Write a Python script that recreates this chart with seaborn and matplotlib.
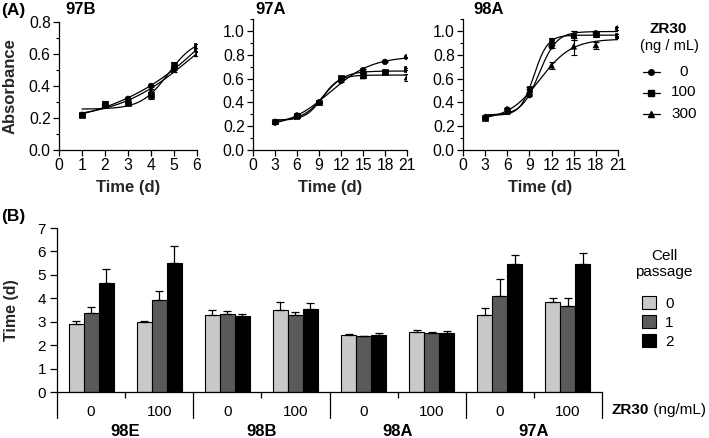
import numpy as np
import pandas as pd
import matplotlib
matplotlib.use('Agg')
import matplotlib.pyplot as plt
import matplotlib.transforms as mtransforms
from matplotlib.ticker import MultipleLocator, FormatStrFormatter
from matplotlib.patches import Patch
import seaborn as sns

# ---- panel A data: absorbance growth curves ----
doses = ['0', '100', '300']
dose_markers = {'0': 'o', '100': 's', '300': '^'}

days_97b = [1, 2, 3, 4, 5, 6]
abs_97b_0 = [0.22, 0.28, 0.32, 0.40, 0.51, 0.63]
abs_97b_100 = [0.22, 0.29, 0.29, 0.34, 0.53, 0.65]
abs_97b_300 = [0.22, 0.28, 0.31, 0.37, 0.50, 0.60]
err_97b_0 = [0.005, 0.005, 0.005, 0.005, 0.01, 0.01]
err_97b_100 = [0.01, 0.015, 0.01, 0.02, 0.02, 0.015]
err_97b_300 = [0.005, 0.01, 0.01, 0.01, 0.01, 0.015]

days_long = [3, 6, 9, 12, 15, 18, 21]
abs_97a_0 = [0.23, 0.29, 0.40, 0.58, 0.67, 0.74, 0.78]
abs_97a_100 = [0.24, 0.29, 0.40, 0.61, 0.63, 0.66, 0.68]
abs_97a_300 = [0.24, 0.28, 0.40, 0.60, 0.62, 0.65, 0.61]
err_97a_0 = [0.005, 0.005, 0.005, 0.01, 0.01, 0.005, 0.005]
err_97a_100 = [0.005, 0.01, 0.005, 0.01, 0.02, 0.01, 0.01]
err_97a_300 = [0.005, 0.01, 0.005, 0.01, 0.01, 0.01, 0.03]

abs_98a_0 = [0.27, 0.34, 0.46, 0.87, 0.96, 0.98, 1.02]
abs_98a_100 = [0.27, 0.33, 0.51, 0.92, 0.96, 0.97, 0.96]
abs_98a_300 = [0.28, 0.32, 0.49, 0.71, 0.87, 0.88, 0.95]
err_98a_0 = [0.005, 0.01, 0.01, 0.01, 0.04, 0.01, 0.01]
err_98a_100 = [0.01, 0.02, 0.02, 0.02, 0.04, 0.02, 0.01]
err_98a_300 = [0.005, 0.01, 0.02, 0.03, 0.07, 0.03, 0.01]

panels = [
    ('97B', days_97b, [abs_97b_0, abs_97b_100, abs_97b_300], [err_97b_0, err_97b_100, err_97b_300]),
    ('97A', days_long, [abs_97a_0, abs_97a_100, abs_97a_300], [err_97a_0, err_97a_100, err_97a_300]),
    ('98A', days_long, [abs_98a_0, abs_98a_100, abs_98a_300], [err_98a_0, err_98a_100, err_98a_300]),
]

# ---- panel B data: doubling time ----
cell_lines = ['98E', '98B', '98A', '97A']
zr_doses = ['0', '100']
passages = ['0', '1', '2']
time_p0 = [2.90, 2.97, 3.29, 3.49, 2.45, 2.55, 3.29, 3.83]
time_p1 = [3.39, 3.93, 3.32, 3.29, 2.39, 2.53, 4.09, 3.67]
time_p2 = [4.64, 5.49, 3.23, 3.53, 2.42, 2.52, 5.45, 5.45]
err_p0 = [0.14, 0.08, 0.21, 0.36, 0.03, 0.10, 0.31, 0.20]
err_p1 = [0.22, 0.39, 0.14, 0.11, 0.02, 0.05, 0.75, 0.36]
err_p2 = [0.61, 0.76, 0.11, 0.27, 0.11, 0.08, 0.40, 0.50]
bar_colors = ['#c9c9c9', '#5a5a5a', '#000000']


def logistic_fit(x, y):
    # least squares 4-parameter logistic, grid over slope / midpoint
    x = np.asarray(x, float)
    y = np.asarray(y, float)
    ks = np.linspace(0.05, 3.0, 150)[:, None, None]
    x0s = np.linspace(x.min(), x.max() + 12, 300)[None, :, None]
    s = 1.0 / (1.0 + np.exp(-ks * (x - x0s)))
    sm = s.mean(-1, keepdims=True)
    ym = y.mean()
    c1 = ((s - sm) * (y - ym)).sum(-1, keepdims=True) / (((s - sm) ** 2).sum(-1, keepdims=True) + 1e-12)
    c0 = ym - c1 * sm
    sse = ((y - c0 - c1 * s) ** 2).sum(-1)
    i, j = np.unravel_index(np.nanargmin(sse), sse.shape)
    k, x0 = ks[i, 0, 0], x0s[0, j, 0]
    xf = np.linspace(x.min(), x.max(), 200)
    return xf, c0[i, j, 0] + c1[i, j, 0] / (1.0 + np.exp(-k * (xf - x0)))


sns.set_theme(style='ticks')
plt.rcParams['font.family'] = ['Liberation Sans', 'DejaVu Sans']
plt.rcParams['axes.linewidth'] = 0.9
plt.rcParams['xtick.major.width'] = 0.9
plt.rcParams['ytick.major.width'] = 0.9
plt.rcParams['ytick.minor.width'] = 0.8
plt.rcParams['text.color'] = 'black'
plt.rcParams['xtick.color'] = 'black'
plt.rcParams['ytick.color'] = 'black'
plt.rcParams['axes.edgecolor'] = 'black'

W, H = 709, 438
fig = plt.figure(figsize=(W / 100, H / 100), dpi=100)


def px_axes(l, t, r, b):
    return fig.add_axes([l / W, 1 - b / H, (r - l) / W, (b - t) / H])


top_boxes = [(59, 22, 197, 150), (253, 19, 407, 150), (463, 19, 618, 150)]
title_x = [65, 255, 473]

for (name, days, vals, errs), box, tx in zip(panels, top_boxes, title_x):
    ax = px_axes(*box)
    pts = pd.DataFrame({
        'day': np.tile(days, len(doses)),
        'absorbance': np.concatenate(vals),
        'err': np.concatenate(errs),
        'dose': np.repeat(doses, len(days)),
    })
    fits = []
    for d, v in zip(doses, vals):
        xf, yf = logistic_fit(days, v)
        fits.append(pd.DataFrame({'day': xf, 'fit': yf, 'dose': d}))
    fits = pd.concat(fits)
    sns.lineplot(data=fits, x='day', y='fit', units='dose', estimator=None,
                 color='black', linewidth=0.9, ax=ax, legend=False)
    ax.errorbar(pts['day'], pts['absorbance'], yerr=pts['err'], fmt='none',
                ecolor='black', elinewidth=0.8, capsize=2, capthick=0.8)
    sns.scatterplot(data=pts, x='day', y='absorbance', style='dose', markers=dose_markers,
                    color='black', s=16, edgecolor='black', linewidth=0.5, ax=ax, legend=False)
    if name == '97B':
        ax.set_xlim(0, 6)
        ax.set_xticks(range(0, 7))
        ax.set_ylim(0, 0.8)
        ax.set_ylabel('Absorbance', fontsize=12, fontweight='bold', labelpad=8)
    else:
        ax.set_xlim(0, 21)
        ax.set_xticks(range(0, 22, 3))
        ax.set_ylim(0, 1.1)
        ax.set_ylabel('')
    ax.yaxis.set_major_locator(MultipleLocator(0.2))
    ax.yaxis.set_minor_locator(MultipleLocator(0.1))
    ax.yaxis.set_major_formatter(FormatStrFormatter('%.1f'))
    ax.tick_params(axis='both', which='major', labelsize=11.3, length=4, pad=2)
    ax.tick_params(axis='y', which='minor', length=2.5, left=True)
    ax.set_xlabel('Time (d)', fontsize=12, fontweight='bold', labelpad=5)
    sns.despine(ax=ax)
    fig.text(tx / W, 1 - 10 / H, name, fontsize=12, fontweight='bold', ha='left', va='center')

fig.text(1 / W, 1 - 10 / H, '(A)', fontsize=12.5, fontweight='bold', ha='left', va='center')

# legend for panel A
fig.text(668 / W, 1 - 29 / H, 'ZR30', fontsize=11, fontweight='bold', ha='center', va='center')
fig.text(669 / W, 1 - 46 / H, '(ng / mL)', fontsize=10.5, ha='center', va='center')
lax = px_axes(640, 61, 700, 124)
lax.set_xlim(0, 60)
lax.set_ylim(2.5, -0.5)
lax.axis('off')
for i, d in enumerate(doses):
    lax.plot([3, 11, 20], [i, i, i], color='black', linewidth=0.9,
             marker=dose_markers[d], markevery=[1], markersize=4)
    lax.text(44, i, d, fontsize=11, ha='center', va='center')

# ---- panel B ----
group_keys = [c + ' ' + d for c in cell_lines for d in zr_doses]
df_bar = pd.DataFrame({
    'group': group_keys * len(passages),
    'time': time_p0 + time_p1 + time_p2,
    'passage': np.repeat(passages, len(group_keys)),
})
axb = px_axes(57, 228, 602, 392)
sns.barplot(data=df_bar, x='group', y='time', hue='passage', hue_order=passages,
            palette=bar_colors, saturation=1, width=0.66, edgecolor='black',
            linewidth=0.8, errorbar=None, legend=False, ax=axb)
for cont, errs in zip(axb.containers, [err_p0, err_p1, err_p2]):
    xs = [b.get_x() + b.get_width() / 2 for b in cont]
    hs = [b.get_height() for b in cont]
    axb.errorbar(xs, hs, yerr=[np.zeros(len(errs)), errs], fmt='none', ecolor='black',
                 elinewidth=0.9, capsize=3, capthick=0.9, zorder=1)
axb.set_xlim(-0.5, len(group_keys) - 0.5)
axb.set_ylim(0, 7)
axb.set_yticks(range(0, 8))
axb.set_xticks(range(len(group_keys)))
axb.set_xticklabels([d for c in cell_lines for d in zr_doses])
axb.set_xticks([i + 0.5 for i in range(0, len(group_keys), 2)], minor=True)
axb.tick_params(axis='x', which='major', length=0, pad=9, labelsize=11)
axb.tick_params(axis='x', which='minor', length=4, width=0.9, bottom=True)
axb.tick_params(axis='y', which='major', length=5, pad=3, labelsize=11)
axb.set_xlabel('')
axb.set_ylabel('Time (d)', fontsize=11.5, fontweight='bold', labelpad=13)
sns.despine(ax=axb)
axb.spines['left'].set_visible(False)

trans = mtransforms.blended_transform_factory(axb.transData, axb.transAxes)
for xsep in range(-1, len(group_keys), 2):
    axb.plot([xsep + 0.5, xsep + 0.5], [0, -26 / 164], transform=trans, color='black',
             linewidth=0.9, clip_on=False)
axb.plot([-0.5, -0.5], [0, 1], transform=trans, color='black', linewidth=0.9, clip_on=False)
for i, c in enumerate(cell_lines):
    axb.text(2 * i + 0.5, -39 / 164, c, transform=trans, fontsize=12, fontweight='bold',
             ha='center', va='center')

t1 = fig.text(612 / W, 1 - 410 / H, 'ZR30', fontsize=11, fontweight='bold', ha='left', va='center')
axb.annotate(' (ng/mL)', xy=(1, 0.5), xycoords=t1, fontsize=11, ha='left', va='center')

fig.text(1 / W, 1 - 216 / H, '(B)', fontsize=12.5, fontweight='bold', ha='left', va='center')

# legend for panel B
fig.text(664 / W, 1 - 264 / H, 'Cell\npassage', fontsize=11, ha='center', va='center',
         multialignment='center', linespacing=1.15)
handles = [Patch(facecolor=c, edgecolor='black', linewidth=0.8) for c in bar_colors]
fig.legend(handles, passages, loc='upper left', bbox_to_anchor=(642 / W, 1 - 296 / H),
           frameon=False, fontsize=11, handlelength=0.9, handleheight=0.9,
           labelspacing=0.3, handletextpad=0.6, borderpad=0, borderaxespad=0)

fig.savefig('out.png', dpi=100)
